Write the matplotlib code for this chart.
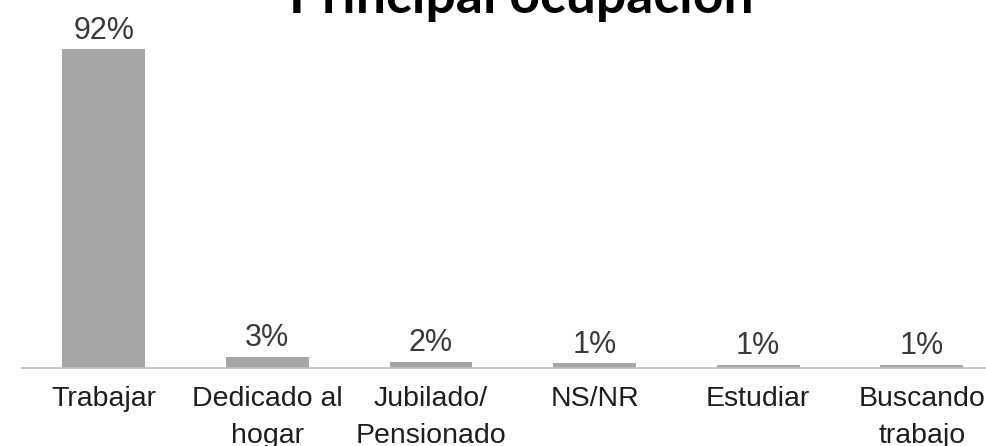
import matplotlib
matplotlib.use("Agg")
import matplotlib.pyplot as plt

categories = ["Trabajar", "Dedicado al\nhogar", "Jubilado/\nPensionado", "NS/NR", "Estudiar", "Buscando\ntrabajo"]
values = [92, 3.2, 1.8, 1.4, 0.9, 0.9]
title = "Principal ocupación"

W, H = 987, 446
fig = plt.figure(figsize=(W / 100, H / 100), dpi=100)
fig.patch.set_facecolor("white")

left_px, base_px, cat_px, unit_px = 22, 368, 163.6, 3.467
ymax = 100
ax = fig.add_axes([left_px / W, (H - base_px) / H, 6 * cat_px / W, ymax * unit_px / H])
ax.set_facecolor("none")

x = list(range(len(categories)))
bars = ax.bar(x, values, width=0.507, color="#a6a6a6", zorder=2)
ax.set_xlim(-0.5, len(categories) - 0.5)
ax.set_ylim(0, ymax)

for xi, v in zip(x, values):
    ax.annotate(f"{v:.0f}%", (xi, v), xytext=(0, 7.5), textcoords="offset points",
                ha="center", va="baseline", fontsize=22, color="#3a3a3a",
                family=["Liberation Sans", "DejaVu Sans"])

for s in ["top", "right", "left"]:
    ax.spines[s].set_visible(False)
ax.spines["bottom"].set_color("#bfbfbf")
ax.spines["bottom"].set_linewidth(1.2)
ax.set_yticks([])
ax.set_xticks(x)
ax.set_xticklabels(categories, fontsize=20.5, color="#1e1e1e",
                   family=["Liberation Sans", "DejaVu Sans"], linespacing=1.56)
ax.tick_params(axis="x", length=0, pad=13)

fig.text(521 / W, (H - 13) / H, title, ha="center", va="baseline",
         fontsize=38.5, fontweight="bold", family=["Lato", "DejaVu Sans"], color="black")

fig.savefig("out.png", dpi=100)
